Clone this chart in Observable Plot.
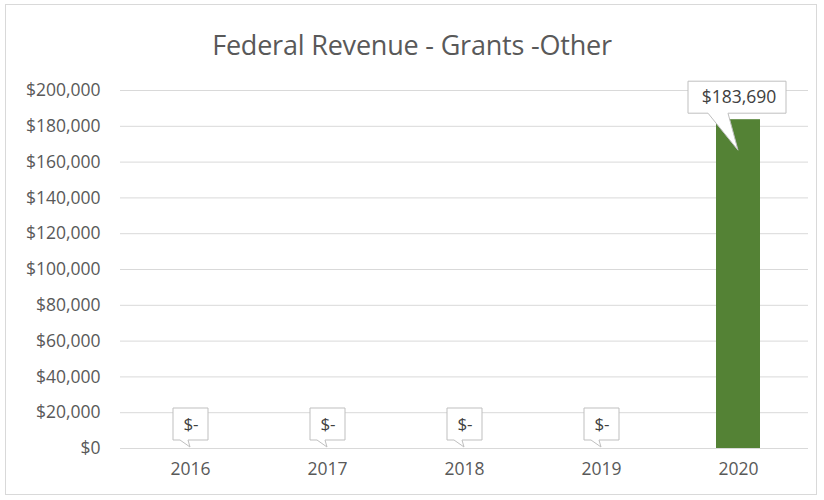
<!DOCTYPE html>
<html>
<head>
<meta charset="utf-8">
<script src="https://cdn.jsdelivr.net/npm/d3@7"></script>
<script src="https://cdn.jsdelivr.net/npm/@observablehq/plot@0.6"></script>
<style>
  html, body { margin: 0; padding: 0; background: #fff; }
  #wrap { position: relative; width: 824px; height: 500px; overflow: hidden; font-family: "Open Sans", sans-serif; }
  #frame { position: absolute; left: 5px; top: 4px; width: 812px; height: 491px; border: 1px solid #d9d9d9; box-sizing: border-box; pointer-events: none; }
  #title { position: absolute; left: 0; width: 824px; top: 26px; line-height: 38px; text-align: center; font-size: 27px; color: #595959; letter-spacing: -0.2px; }
  #chart { position: absolute; left: 0; top: 0; }
</style>
</head>
<body>
<div id="wrap">
  <div id="chart"></div>
  <div id="frame"></div>
  <div id="title">Federal Revenue - Grants -Other</div>
</div>
<script>
const years = ["2016", "2017", "2018", "2019", "2020"];
const values = [0, 0, 0, 0, 183690];
const yTicks = [0, 20000, 40000, 60000, 80000, 100000, 120000, 140000, 160000, 180000, 200000];

const data = years.map((year, i) => ({year, value: values[i]}));
const money = d => d === 0 ? "$0" : "$" + d3.format(",")(d);
const labelText = d => d === 0 ? "$-" : "$" + d3.format(",")(d);

function callouts(index, scales) {
  const g = d3.create("svg:g");
  const bw = scales.x.bandwidth();
  for (const d of data) {
    const cx = scales.x(d.year) + bw / 2;
    const yv = scales.y(d.value);
    if (d.value === 0) {
      const w = 35, h = 32;
      const x0 = cx - 17, y1 = yv - 8, y0 = y1 - h;
      g.append("path")
        .attr("d", `M${x0},${y0}H${x0 + w}V${y1}H${cx - 2}L${cx},${yv - 1}L${cx - 10},${y1}H${x0}Z`)
        .attr("fill", "#fff").attr("stroke", "#bfbfbf").attr("stroke-width", 1);
      g.append("text").attr("x", cx + 1).attr("y", y0 + h / 2).attr("dy", "0.36em")
        .attr("text-anchor", "middle").attr("fill", "#404040").attr("font-size", 17)
        .text(labelText(d.value));
    } else {
      const w = 98, h = 32;
      const x0 = cx - 50, y1 = yv - 6, y0 = y1 - h;
      g.append("path")
        .attr("d", `M${x0},${y0}H${x0 + w}V${y1}H${cx - 10}L${cx},${yv + 31}L${cx - 30},${y1}H${x0}Z`)
        .attr("fill", "#fff").attr("stroke", "#bfbfbf").attr("stroke-width", 1);
      g.append("text").attr("x", cx + 1).attr("y", y0 + h / 2).attr("dy", "0.36em")
        .attr("text-anchor", "middle").attr("fill", "#404040").attr("font-size", 17.5)
        .text(labelText(d.value));
    }
  }
  return g.node();
}

const plot = Plot.plot({
  width: 824,
  height: 500,
  marginTop: 90,
  marginBottom: 52,
  marginLeft: 120,
  marginRight: 16,
  style: { fontFamily: "Open Sans, sans-serif", fontSize: "17.5px", color: "#595959", background: "transparent" },
  x: { domain: years, paddingInner: 0.68, paddingOuter: 0.34, align: 0.5, label: null, tickSize: 0, tickPadding: 14 },
  y: { domain: [0, 200000], ticks: yTicks, tickFormat: money, label: null, tickSize: 0, tickPadding: 20 },
  marks: [
    Plot.ruleY(yTicks, { stroke: "#d9d9d9", strokeWidth: 1 }),
    Plot.barY(data, { x: "year", y: "value", fill: "#548235" }),
    callouts
  ]
});
document.getElementById("chart").appendChild(plot);
</script>
</body>
</html>
